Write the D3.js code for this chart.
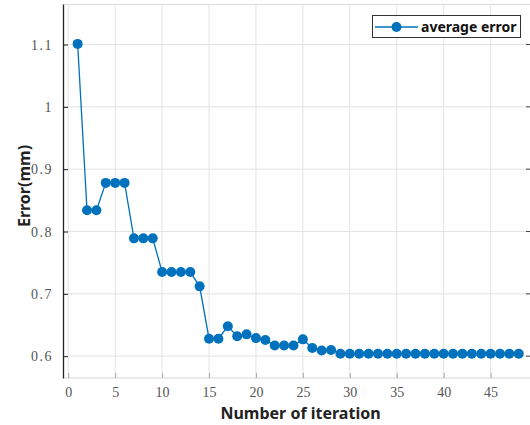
<!DOCTYPE html>
<html lang="en">
<head>
    <meta charset="utf-8">
    <script src="https://d3js.org/d3.v7.min.js"></script>
    <style>
        body { margin: 0; background: #fff; }
    </style>
</head>
<body>
<div id="chart"></div>
<script>
    // Data
    const iterations = d3.range(1, 49);
    const avgError = [
        1.101, 0.834, 0.834, 0.878, 0.878, 0.878, 0.789, 0.789, 0.789, 0.735,
        0.735, 0.735, 0.735, 0.712, 0.628, 0.628, 0.648, 0.632, 0.635, 0.629,
        0.626, 0.617, 0.617, 0.617, 0.627, 0.613, 0.609, 0.610, 0.604, 0.604,
        0.604, 0.604, 0.604, 0.604, 0.604, 0.604, 0.604, 0.604, 0.604, 0.604,
        0.604, 0.604, 0.604, 0.604, 0.604, 0.604, 0.604, 0.604
    ];
    const xTicks = [0, 5, 10, 15, 20, 25, 30, 35, 40, 45];
    const yTicks = [0.6, 0.7, 0.8, 0.9, 1.0, 1.1];
    const seriesName = "average error";

    const W = 530, H = 425;
    const margin = {top: 4, right: 0, bottom: 47, left: 63};
    const width = W - margin.left - margin.right,
        height = H - margin.top - margin.bottom;
    const blue = "#0072BD";

    const svg = d3.select("#chart").append("svg")
        .attr("width", W).attr("height", H);
    const g = svg.append("g")
        .attr("transform", `translate(${margin.left},${margin.top})`);

    const x = d3.scaleLinear().domain([-0.56, 49.2]).range([0, width]);
    const y = d3.scaleLinear().domain([0.565, 1.165]).range([height, 0]);

    // grid
    g.append("g").selectAll("line").data(xTicks).join("line")
        .attr("x1", d => x(d)).attr("x2", d => x(d))
        .attr("y1", 0).attr("y2", height)
        .attr("stroke", "#e3e3e3").attr("stroke-width", 1);
    g.append("g").selectAll("line").data(yTicks).join("line")
        .attr("x1", 0).attr("x2", width)
        .attr("y1", d => y(d)).attr("y2", d => y(d))
        .attr("stroke", "#e3e3e3").attr("stroke-width", 1);

    // box top / bottom (light)
    g.append("line").attr("x1", 0).attr("x2", width).attr("y1", 0.5).attr("y2", 0.5)
        .attr("stroke", "#dcdcdc");
    g.append("line").attr("x1", 0).attr("x2", width).attr("y1", height).attr("y2", height)
        .attr("stroke", "#d6d6d6");

    // x axis
    const xAxis = g.append("g")
        .attr("transform", `translate(0,${height})`)
        .call(d3.axisBottom(x).tickValues(xTicks).tickSizeInner(-5).tickSizeOuter(0).tickPadding(9));
    xAxis.select(".domain").remove();
    xAxis.selectAll(".tick line").attr("stroke", "#aaa");
    xAxis.selectAll("text")
        .attr("font-family", "'Liberation Serif', serif")
        .attr("font-size", 14).attr("fill", "#555");

    // y axis (left)
    const yAxis = g.append("g")
        .call(d3.axisLeft(y).tickValues(yTicks).tickFormat(d3.format("~g"))
            .tickSizeInner(-5).tickSizeOuter(0).tickPadding(10));
    yAxis.select(".domain").attr("stroke", "#222").attr("stroke-width", 1.3);
    yAxis.selectAll(".tick line").attr("stroke", "#222");
    yAxis.selectAll("text")
        .attr("font-family", "'Liberation Serif', serif")
        .attr("font-size", 14).attr("fill", "#555")
        .attr("letter-spacing", 1.5);

    // right side ticks
    g.append("g").selectAll("line").data(yTicks).join("line")
        .attr("x1", width - 4).attr("x2", width)
        .attr("y1", d => y(d)).attr("y2", d => y(d))
        .attr("stroke", "#444");

    // line + markers
    const pts = iterations.map((it, i) => [it, avgError[i]]);
    g.append("path").datum(pts)
        .attr("fill", "none").attr("stroke", blue).attr("stroke-width", 1.3)
        .attr("d", d3.line().x(d => x(d[0])).y(d => y(d[1])));
    g.selectAll("circle.pt").data(pts).join("circle")
        .attr("class", "pt")
        .attr("cx", d => x(d[0])).attr("cy", d => y(d[1]))
        .attr("r", 5).attr("fill", blue);

    // axis labels
    svg.append("text")
        .attr("x", margin.left + width / 2 + 4).attr("y", 419)
        .attr("text-anchor", "middle")
        .attr("font-family", "'Noto Sans', sans-serif").attr("font-weight", "bold")
        .attr("font-size", 16).attr("fill", "#222")
        .text("Number of iteration");
    svg.append("text")
        .attr("transform", `translate(30,${margin.top + height / 2 - 5}) rotate(-90)`)
        .attr("text-anchor", "middle")
        .attr("font-family", "'Noto Sans', sans-serif").attr("font-weight", "bold")
        .attr("font-size", 16).attr("fill", "#222")
        .text("Error(mm)");

    // legend
    const leg = svg.append("g").attr("transform", "translate(372,15)");
    leg.append("rect").attr("x", 0.5).attr("y", 0.5).attr("width", 148).attr("height", 22)
        .attr("fill", "#fff").attr("stroke", "#333").attr("stroke-width", 1);
    leg.append("line").attr("x1", 3).attr("x2", 46).attr("y1", 12).attr("y2", 12)
        .attr("stroke", blue).attr("stroke-width", 1.3);
    leg.append("circle").attr("cx", 24.5).attr("cy", 12).attr("r", 5).attr("fill", blue);
    leg.append("text").attr("x", 49).attr("y", 17)
        .attr("font-family", "'Noto Sans', sans-serif").attr("font-weight", "bold")
        .attr("font-size", 14).attr("fill", "#111")
        .text(seriesName);
</script>
</body>
</html>
